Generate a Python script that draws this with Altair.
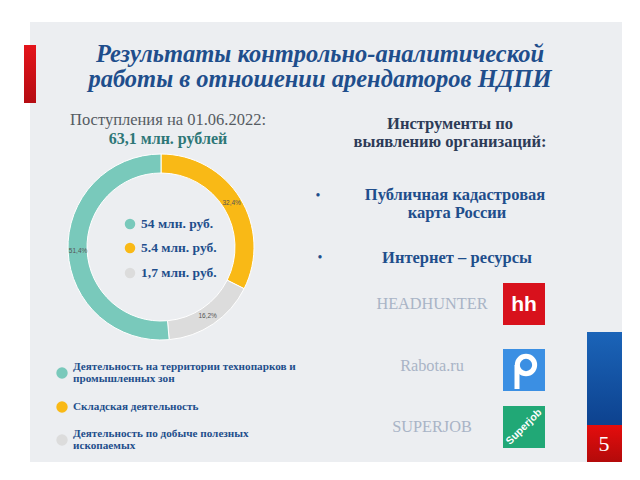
import altair as alt
import pandas as pd

# ---------------- data ----------------
categories = ["Складская деятельность",
              "Деятельность по добыче полезных ископаемых",
              "Деятельность на территории технопарков и промышленных зон"]
shares = [32.4, 16.2, 51.4]
share_labels = ["32,4%", "16,2%", "51,4%"]
colors = ["#f9b916", "#dcdcdc", "#79c9bb"]

legend_amounts = ["54 млн. руб.", "5.4 млн. руб.", "1,7 млн. руб."]
legend_amount_colors = ["#79c9bb", "#f9b916", "#dcdcdc"]

bottom_legend = [["Деятельность на территории технопарков и", "промышленных зон"],
                 ["Складская деятельность"],
                 ["Деятельность по добыче полезных", "ископаемых"]]
bottom_colors = ["#79c9bb", "#f9b916", "#dcdcdc"]

tools = ["HEADHUNTER", "Rabota.ru", "SUPERJOB"]

SERIF = "Liberation Serif"
SANS = "Liberation Sans"
DARK_BLUE = "#1f4e8c"

XP = lambda f: alt.X(f, type="quantitative", scale=None, axis=None)
YP = lambda f: alt.Y(f, type="quantitative", scale=None, axis=None)


def rects(rows, **kw):
    df = pd.DataFrame(rows, columns=["x", "x2", "y", "y2"])
    return alt.Chart(df).mark_rect(**kw).encode(
        x=XP("x"), x2="x2", y=YP("y"), y2="y2")


def txt(rows, **kw):
    df = pd.DataFrame(rows, columns=["t", "px", "py"])
    return alt.Chart(df).mark_text(**kw).encode(
        x=XP("px"), y=YP("py"), text="t:N")


# ---------------- background ----------------
bg = rects([[30, 622, 22, 462]], color="#eceef1")
red_bar = rects([[24, 36, 45, 103]], color=alt.Gradient(
    gradient="linear", x1=0, x2=0, y1=0, y2=1,
    stops=[alt.GradientStop(color="#e4141b", offset=0),
           alt.GradientStop(color="#b50c12", offset=1)]))
blue_bar = rects([[587, 622, 332, 425]], color=alt.Gradient(
    gradient="linear", x1=0, x2=0, y1=0, y2=1,
    stops=[alt.GradientStop(color="#1b64b8", offset=0),
           alt.GradientStop(color="#0d428f", offset=1)]))
red_box = rects([[587, 622, 425, 462]], color=alt.Gradient(
    gradient="linear", x1=0, x2=0, y1=0, y2=1,
    stops=[alt.GradientStop(color="#e50d0d", offset=0),
           alt.GradientStop(color="#b30a0a", offset=1)]))
page_no = txt([["5", 604, 444]], font=SERIF, fontSize=22, color="white")

# ---------------- titles ----------------
title = txt([["Результаты контрольно-аналитической", 320, 55],
             ["работы в отношении арендаторов НДПИ", 320, 80]],
            font=SERIF, fontSize=24.5, fontStyle="italic", fontWeight="bold",
            color=DARK_BLUE)
sub1 = txt([["Поступления на 01.06.2022:", 168, 120]],
           font=SERIF, fontSize=16.5, color="#555b62")
sub2 = txt([["63,1 млн. рублей", 168, 139]],
           font=SERIF, fontSize=16, fontWeight="bold", color="#2e7777")

# ---------------- donut ----------------
pie_df = pd.DataFrame({"cat": categories, "share": shares,
                       "lab": share_labels, "ord": [0, 1, 2]})
donut = alt.Chart(pie_df).mark_arc(
    innerRadius=74, outerRadius=93, stroke="white", strokeWidth=1).encode(
    theta=alt.Theta("share:Q", stack=True),
    order=alt.Order("ord:Q"),
    color=alt.Color("cat:N", scale=alt.Scale(domain=categories, range=colors),
                    legend=None),
    x=alt.value(161), y=alt.value(247))
donut_lab = alt.Chart(pie_df).mark_text(
    radius=83, fontSize=6.5, font=SANS, color="#555555").encode(
    theta=alt.Theta("share:Q", stack=True),
    order=alt.Order("ord:Q"),
    text="lab:N",
    x=alt.value(161), y=alt.value(247))

# inner legend
in_df = pd.DataFrame({"t": legend_amounts, "c": legend_amount_colors,
                      "py": [224, 248, 273]})
in_dots = alt.Chart(in_df).mark_point(filled=True, size=110, opacity=1,
                                      shape="circle").encode(
    x=alt.value(130), y=YP("py"),
    color=alt.Color("c:N", scale=None))
in_text = alt.Chart(in_df).mark_text(
    align="left", font=SERIF, fontSize=13.5, fontWeight="bold",
    color=DARK_BLUE).encode(x=alt.value(141), y=YP("py"), text="t:N")

# bottom legend
bl_rows = []
dot_rows = []
dot_y = [373, 407, 440]
for lines, c, yy in zip(bottom_legend, bottom_colors, dot_y):
    dot_rows.append([c, yy])
    if len(lines) == 2:
        bl_rows.append([lines[0], 73, yy - 6])
        bl_rows.append([lines[1], 73, yy + 6])
    else:
        bl_rows.append([lines[0], 73, yy])
bl_dots_df = pd.DataFrame(dot_rows, columns=["c", "py"])
bl_dots = alt.Chart(bl_dots_df).mark_point(filled=True, size=130, opacity=1,
                                           shape="circle").encode(
    x=alt.value(62), y=YP("py"), color=alt.Color("c:N", scale=None))
bl_text = txt(bl_rows, align="left", font=SERIF, fontSize=11.2,
              fontWeight="bold", color=DARK_BLUE)

# ---------------- right side ----------------
right_head = txt([["Инструменты по", 450, 124],
                  ["выявлению организаций:", 450, 142]],
                 font=SERIF, fontSize=16.5, fontWeight="bold", color="#2d3b57")
right_items = txt([["Публичная кадастровая", 455, 195],
                   ["карта России", 457, 213],
                   ["Интернет – ресурсы", 457, 258]],
                  font=SERIF, fontSize=16.5, fontWeight="bold", color=DARK_BLUE)
bullets = txt([["•", 318, 196], ["•", 320, 258]],
              font=SERIF, fontSize=14, color=DARK_BLUE)
tool_text = txt([[tools[0], 432, 304], [tools[1], 432, 366], [tools[2], 432, 427]],
                font=SERIF, fontSize=16.3, color="#a9b4c6")

# logos
hh_box = rects([[503, 545, 283, 325]], color="#d8111c")
hh_txt = txt([["hh", 524, 305]], font=SANS, fontSize=21, fontWeight="bold",
             color="white")
rb_box = rects([[503, 545, 349, 391]], color="#3b8fe3")
rb_ring = alt.Chart(pd.DataFrame({"a": [0]})).mark_point(
    shape="circle", filled=False, size=300, strokeWidth=5, color="white",
    opacity=1).encode(x=alt.value(526), y=alt.value(365))
rb_stem = alt.Chart(pd.DataFrame({"a": [0]})).mark_rule(
    strokeWidth=5, color="white").encode(
    x=alt.value(517), y=alt.value(365), y2=alt.value(389))
sj_box = rects([[503, 545, 406, 448]], color="#21a876")
sj_txt = txt([["Superjob", 524, 427]], font=SANS, fontSize=10.5,
             fontWeight="bold", color="white", angle=315)

chart = alt.layer(
    bg, red_bar, blue_bar, red_box, page_no,
    title, sub1, sub2,
    donut, donut_lab, in_dots, in_text,
    bl_dots, bl_text,
    right_head, right_items, bullets, tool_text,
    hh_box, hh_txt, rb_box, rb_ring, rb_stem, sj_box, sj_txt,
).properties(
    width=640, height=480, padding=0,
    autosize=alt.AutoSizeParams(type="none"),
    background="white",
).configure_view(stroke=None)

chart.save("out.html", embed_options={"renderer": "svg", "actions": False})
